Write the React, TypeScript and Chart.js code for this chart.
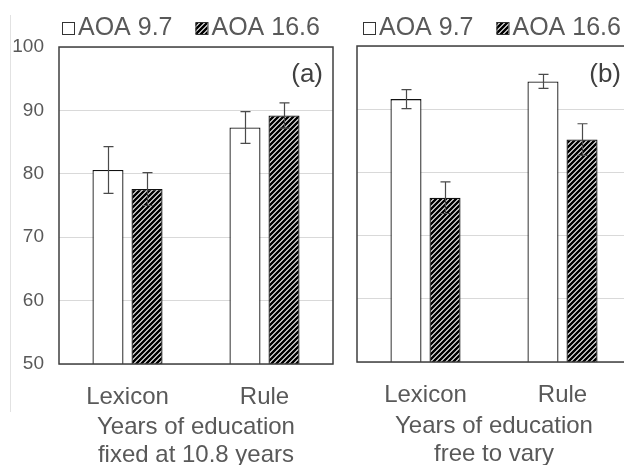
import React, { useEffect, useRef } from "react";
import { Chart, registerables } from "chart.js";

Chart.register(...registerables);

// ---- data ----
const categories = ["Lexicon", "Rule"];
const seriesLabels = ["AOA 9.7", "AOA 16.6"];
const yTicks = [50, 60, 70, 80, 90, 100];

const panelA_aoa97 = [80.6, 87.3];
const panelA_aoa97Err = [3.7, 2.5];
const panelA_aoa166 = [77.6, 89.2];
const panelA_aoa166Err = [2.6, 2.0];

const panelB_aoa97 = [91.6, 94.4];
const panelB_aoa97Err = [1.5, 1.1];
const panelB_aoa166 = [76.0, 85.2];
const panelB_aoa166Err = [2.5, 2.5];

const panelATitle = ["Years of education", "fixed at 10.8 years"];
const panelBTitle = ["Years of education", "free to vary"];
const panelLabels = ["(a)", "(b)"];

// ---- styling ----
const FONT = '"Liberation Sans", Arial, Helvetica, sans-serif';
const TEXT = "#595959";
const FRAME = "#3f3f3f";

function makeHatch(): CanvasPattern | string {
  const c = document.createElement("canvas");
  c.width = 5;
  c.height = 5;
  const g = c.getContext("2d");
  if (!g) return "#555";
  g.fillStyle = "#fff";
  g.fillRect(0, 0, 5, 5);
  g.strokeStyle = "#000";
  g.lineWidth = 2.5;
  g.beginPath();
  g.moveTo(-1, 6);
  g.lineTo(6, -1);
  g.moveTo(-1, 1);
  g.lineTo(1, -1);
  g.moveTo(4, 6);
  g.lineTo(6, 4);
  g.stroke();
  return g.createPattern(c, "repeat") || "#555";
}

const errorBarPlugin = {
  id: "errorBars",
  afterDatasetsDraw(chart: any) {
    const { ctx } = chart;
    const yScale = chart.scales.y;
    ctx.save();
    ctx.strokeStyle = "#4a4a4a";
    ctx.lineWidth = 1.2;
    chart.data.datasets.forEach((ds: any, i: number) => {
      const meta = chart.getDatasetMeta(i);
      meta.data.forEach((el: any, j: number) => {
        const v = ds.data[j];
        const e = ds.errors ? ds.errors[j] : 0;
        const yt = yScale.getPixelForValue(v + e);
        const yb = yScale.getPixelForValue(v - e);
        const x = Math.round(el.x) + 0.5;
        ctx.beginPath();
        ctx.moveTo(x, yt);
        ctx.lineTo(x, yb);
        ctx.moveTo(x - 5, yt);
        ctx.lineTo(x + 5, yt);
        ctx.moveTo(x - 5, yb);
        ctx.lineTo(x + 5, yb);
        ctx.stroke();
      });
    });
    ctx.restore();
  },
};

const decorPlugin = {
  id: "decor",
  afterDraw(chart: any, _args: any, opts: any) {
    const { ctx, chartArea: ca } = chart;
    ctx.save();
    // frame
    ctx.strokeStyle = FRAME;
    ctx.lineWidth = 1.5;
    ctx.strokeRect(ca.left, ca.top, ca.right - ca.left, ca.bottom - ca.top);
    // panel label
    ctx.font = `26px ${FONT}`;
    ctx.fillStyle = "#404040";
    ctx.textAlign = "right";
    ctx.textBaseline = "middle";
    ctx.fillText(opts.label, ca.right - 10, opts.labelY);
    // legend
    let x = opts.legendX;
    const base = opts.legendY;
    ctx.font = `25px ${FONT}`;
    ctx.textAlign = "left";
    ctx.textBaseline = "alphabetic";
    chart.data.datasets.forEach((ds: any) => {
      ctx.fillStyle = ds.backgroundColor;
      ctx.fillRect(x, base - 13, 12, 12);
      ctx.strokeStyle = "#333";
      ctx.lineWidth = 1;
      ctx.strokeRect(x + 0.5, base - 12.5, 12, 12);
      ctx.fillStyle = TEXT;
      ctx.fillText(ds.label, x + 16, base);
      x += 16 + ctx.measureText(ds.label).width + 23;
    });
    ctx.restore();
  },
};

type PanelProps = {
  aoa97: number[];
  aoa97Err: number[];
  aoa166: number[];
  aoa166Err: number[];
  title: string[];
  label: string;
  showY: boolean;
  left: number;
  width: number;
  padTop: number;
  padLeft: number;
  padRight: number;
  yWidth: number;
  xHeight: number;
  titlePadBottom: number;
  legendX: number;
};

const CANVAS_H = 480;

function Panel(p: PanelProps) {
  const ref = useRef<HTMLCanvasElement | null>(null);
  useEffect(() => {
    if (!ref.current) return;
    const hatch = makeHatch();
    const barCommon = {
      borderColor: "#111",
      borderWidth: 1.3,
      borderSkipped: false,
      barPercentage: 0.795,
      categoryPercentage: 0.57,
    };
    const chart = new Chart(ref.current, {
      type: "bar",
      data: {
        labels: categories,
        datasets: [
          { label: seriesLabels[0], data: p.aoa97, errors: p.aoa97Err, backgroundColor: "#ffffff", ...barCommon } as any,
          { label: seriesLabels[1], data: p.aoa166, errors: p.aoa166Err, backgroundColor: hatch, ...barCommon } as any,
        ],
      },
      options: {
        responsive: false,
        animation: false,
        devicePixelRatio: 1,
        layout: { padding: { top: p.padTop, left: p.padLeft, right: p.padRight, bottom: 0 } },
        plugins: {
          legend: { display: false },
          tooltip: { enabled: false },
          decor: { label: p.label, labelY: 75, legendX: p.legendX, legendY: 35 },
        } as any,
        scales: {
          x: {
            grid: { display: false, drawTicks: false },
            border: { display: false },
            ticks: { color: TEXT, font: { family: FONT, size: 24, lineHeight: 1.2 }, padding: 19 },
            title: {
              display: true,
              text: p.title,
              color: TEXT,
              font: { family: FONT, size: 24, lineHeight: 28 / 24 },
              padding: { top: 0, bottom: p.titlePadBottom },
            },
            afterFit: (s: any) => {
              s.height = p.xHeight;
            },
          },
          y: {
            min: yTicks[0],
            max: yTicks[yTicks.length - 1],
            afterBuildTicks: (s: any) => {
              s.ticks = yTicks.map((v) => ({ value: v }));
            },
            grid: { color: "#d9d9d9", drawTicks: false, lineWidth: 1 },
            border: { display: false },
            ticks: { display: p.showY, color: TEXT, font: { family: FONT, size: 19 }, padding: 15 },
            afterFit: (s: any) => {
              s.width = p.yWidth;
            },
          },
        },
      } as any,
      plugins: [errorBarPlugin, decorPlugin],
    });
    return () => chart.destroy();
  }, []);
  return (
    <canvas
      ref={ref}
      width={p.width}
      height={CANVAS_H}
      style={{ position: "absolute", left: p.left, top: 0, width: p.width, height: CANVAS_H }}
    />
  );
}

export default function App() {
  return (
    <div
      style={{
        position: "absolute",
        left: 0,
        top: 0,
        width: 624,
        height: 465,
        overflow: "hidden",
        background: "#fff",
      }}
    >
      <div style={{ position: "absolute", left: 10, top: 15, width: 1, height: 397, background: "#e2e2e2" }} />
      <Panel
        aoa97={panelA_aoa97}
        aoa97Err={panelA_aoa97Err}
        aoa166={panelA_aoa166}
        aoa166Err={panelA_aoa166Err}
        title={panelATitle}
        label={panelLabels[0]}
        showY={true}
        left={0}
        width={340}
        padTop={47}
        padLeft={0}
        padRight={7}
        yWidth={59}
        xHeight={CANVAS_H - 364}
        titlePadBottom={11}
        legendX={62}
      />
      <Panel
        aoa97={panelB_aoa97}
        aoa97Err={panelB_aoa97Err}
        aoa166={panelB_aoa166}
        aoa166Err={panelB_aoa166Err}
        title={panelBTitle}
        label={panelLabels[1]}
        showY={false}
        left={340}
        width={303}
        padTop={46}
        padLeft={17}
        padRight={12}
        yWidth={0}
        xHeight={CANVAS_H - 362}
        titlePadBottom={12}
        legendX={23}
      />
    </div>
  );
}
